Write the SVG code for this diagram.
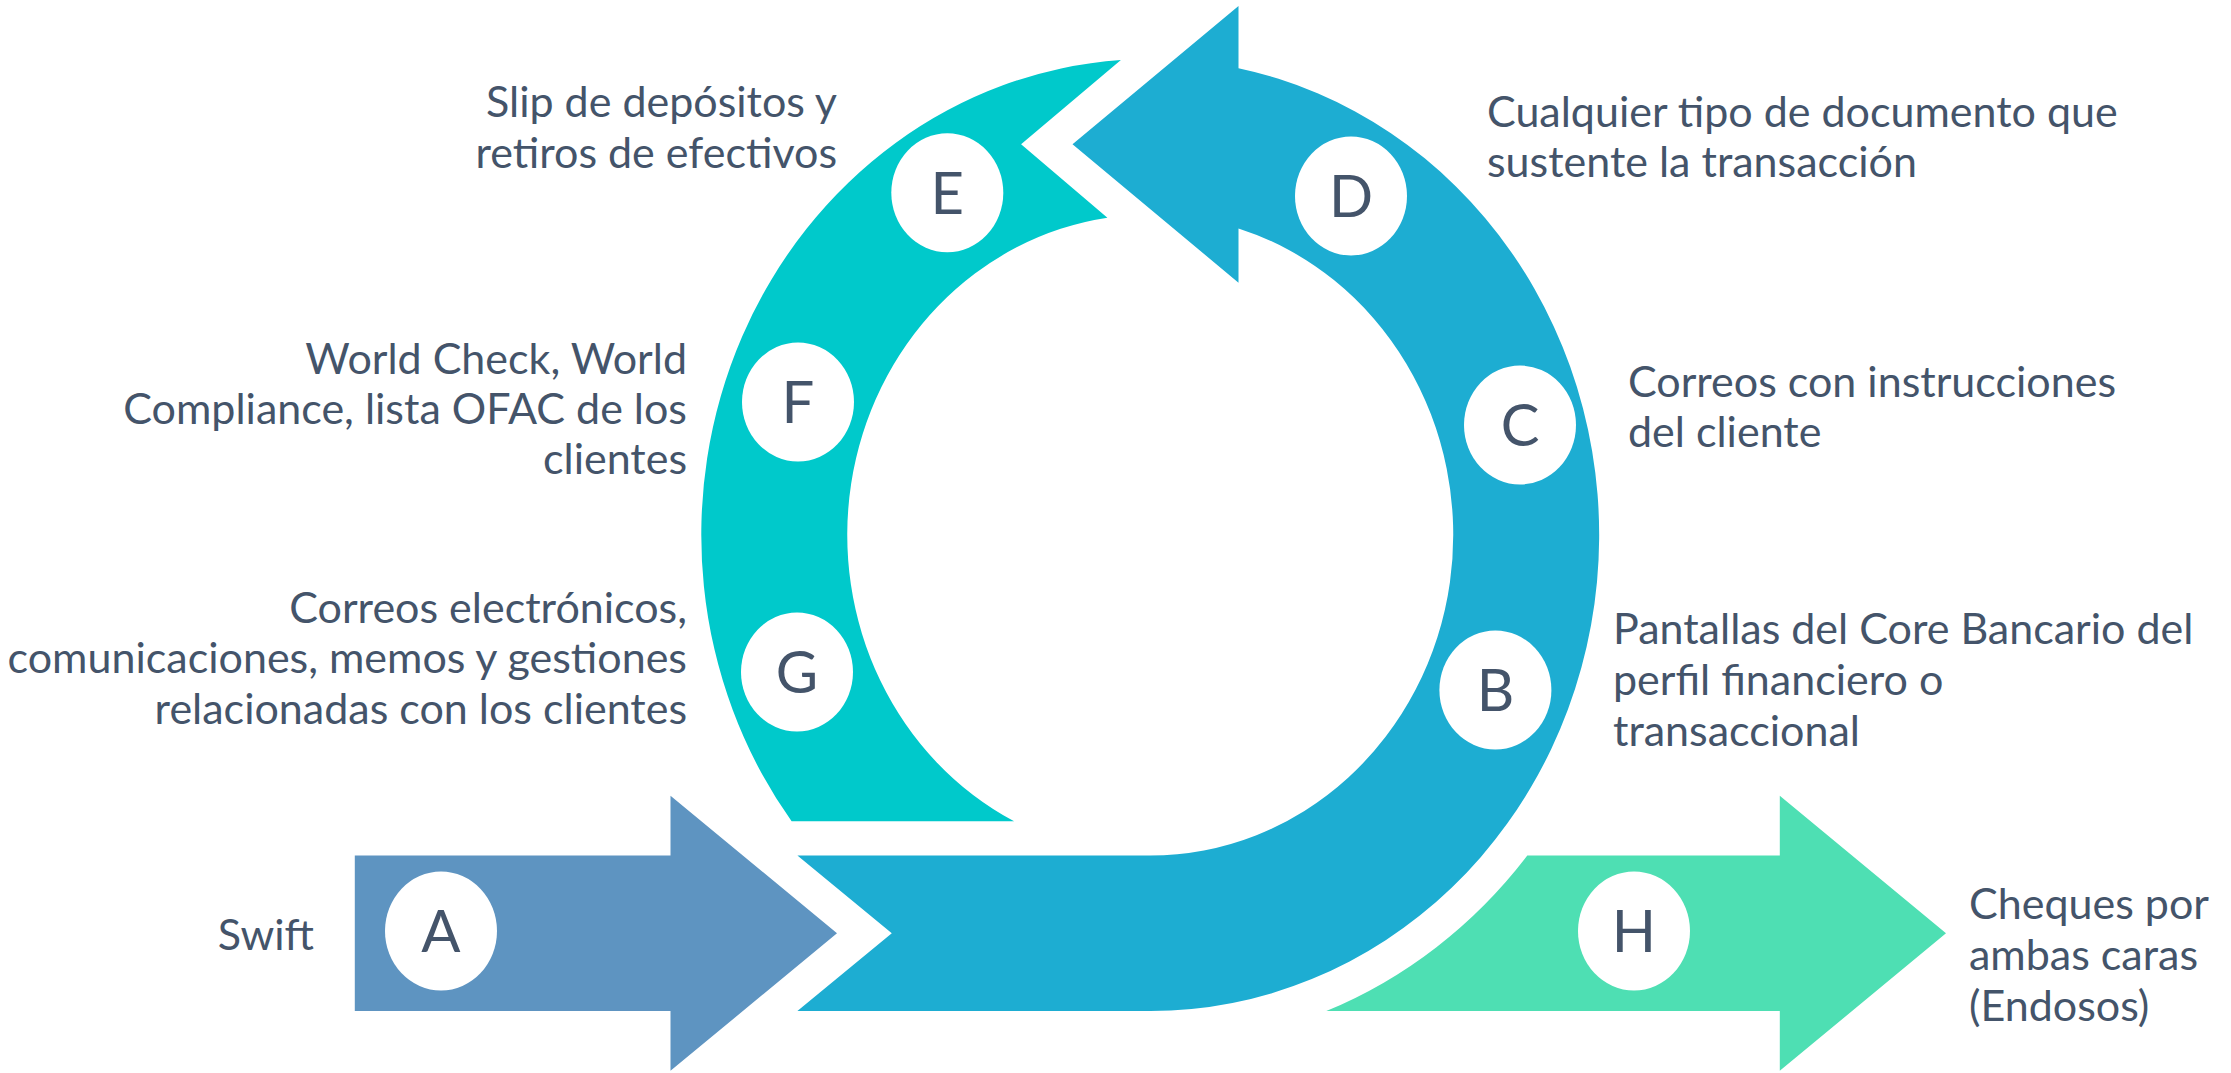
<svg xmlns="http://www.w3.org/2000/svg" width="2231" height="1073" viewBox="0 0 2231 1073">
  <style>
    .lbl { font-family: Lato, "Open Sans", "Liberation Sans", sans-serif; font-size: 43px; fill: #44546A; }
    .end { text-anchor: end; }
    .ltr { font-family: Lato, "Open Sans", "Liberation Sans", sans-serif; font-size: 58px; fill: #44546A; text-anchor: middle; }
    .badge { fill: #FFFFFF; }
  </style>
  <rect width="2231" height="1073" fill="#FFFFFF"/>
  <g id="connectors">
    <path id="arc-teal" fill="#00C9CB" d="M791.6 821.3 A449 476 0 0 1 1120.9 60 L1021.1 144.3 L1107.4 217.7 A303 320.5 0 0 0 1014.1 821.3 Z"/>
    <path id="arc-blue" fill="#1DADD2" d="M1072.5 144.3 L1238.5 6 L1238.5 68.3 A449 476 0 0 1 1150.3 1011 L797.4 1011 L891.8 933.3 L797.4 855.5 L1150.3 855.5 A303 320.5 0 0 0 1238.5 228.4 L1238.5 282.7 Z"/>
  </g>
  <g id="node-A">
    <path fill="#5E94C1" d="M354.8 855.5 H670.5 V795.8 L837 933.3 L670.5 1070.8 V1011 H354.8 Z"/>
    <ellipse class="badge" cx="441" cy="931" rx="56" ry="59.5"/>
    <text class="ltr" x="441" y="952">A</text>
    <text class="lbl end" x="314" y="950">Swift</text>
  </g>
  <g id="node-H">
    <path fill="#4EDFB3" d="M1527.3 855.5 H1779.8 V795.8 L1946 933.3 L1779.8 1070.8 V1011 H1326.3 A484 511 0 0 0 1527.3 855.5 Z"/>
    <ellipse class="badge" cx="1634" cy="931" rx="56" ry="59.5"/>
    <text class="ltr" x="1634" y="952">H</text>
    <text class="lbl" x="1969" y="919">Cheques por</text>
    <text class="lbl" x="1969" y="970">ambas caras</text>
    <text class="lbl" x="1969" y="1021">(Endosos)</text>
  </g>
  <g id="node-B">
    <ellipse class="badge" cx="1495.4" cy="690" rx="56" ry="59.5"/>
    <text class="ltr" x="1495.4" y="711">B</text>
    <text class="lbl" x="1613" y="644">Pantallas del Core Bancario del</text>
    <text class="lbl" x="1613" y="695">perfil financiero o</text>
    <text class="lbl" x="1613" y="746">transaccional</text>
  </g>
  <g id="node-C">
    <ellipse class="badge" cx="1520" cy="425" rx="56" ry="59.5"/>
    <text class="ltr" x="1520" y="446">C</text>
    <text class="lbl" x="1628" y="397">Correos con instrucciones</text>
    <text class="lbl" x="1628" y="447">del cliente</text>
  </g>
  <g id="node-D">
    <ellipse class="badge" cx="1351" cy="196" rx="56" ry="59.5"/>
    <text class="ltr" x="1351" y="217">D</text>
    <text class="lbl" x="1487" y="127">Cualquier tipo de documento que</text>
    <text class="lbl" x="1487" y="177">sustente la transacción</text>
  </g>
  <g id="node-E">
    <ellipse class="badge" cx="947.3" cy="192.8" rx="56" ry="59.5"/>
    <text class="ltr" x="947.3" y="213.8">E</text>
    <text class="lbl end" x="837" y="117">Slip de depósitos y</text>
    <text class="lbl end" x="837" y="168">retiros de efectivos</text>
  </g>
  <g id="node-F">
    <ellipse class="badge" cx="798" cy="402" rx="56" ry="59.5"/>
    <text class="ltr" x="798" y="423">F</text>
    <text class="lbl end" x="687" y="374">World Check, World</text>
    <text class="lbl end" x="687" y="424">Compliance, lista OFAC de los</text>
    <text class="lbl end" x="687" y="474">clientes</text>
  </g>
  <g id="node-G">
    <ellipse class="badge" cx="797" cy="672" rx="56" ry="59.5"/>
    <text class="ltr" x="797" y="693">G</text>
    <text class="lbl end" x="687" y="623">Correos electrónicos,</text>
    <text class="lbl end" x="687" y="673">comunicaciones, memos y gestiones</text>
    <text class="lbl end" x="687" y="724">relacionadas con los clientes</text>
  </g>
</svg>
